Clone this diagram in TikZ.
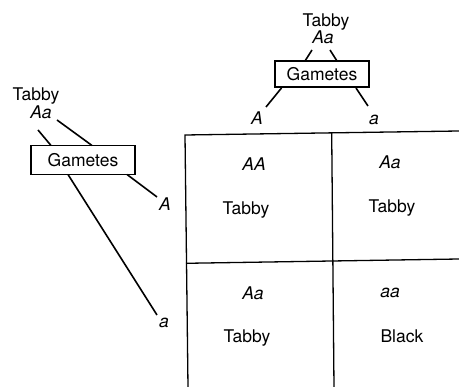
\documentclass[tikz,border=0pt]{standalone}
\usepackage{fontspec}
\setmainfont{TeX Gyre Heros}
\begin{document}
\begin{tikzpicture}[x=1pt,y=-1pt,
  lbl/.style={font=\fontsize{17.5}{20}\selectfont, inner sep=0pt, anchor=base},
  gl/.style={font=\fontsize{17.5}{20}\selectfont\itshape, inner sep=0pt, anchor=base},
  gbox/.style={draw, line width=1.1pt, font=\fontsize{17.5}{20}\selectfont, inner sep=0pt},
  conn/.style={line width=1.6pt},
  gridline/.style={line width=1.3pt}]
\useasboundingbox (0,0) rectangle (459,387);
% top parent
\node[lbl] (tT) at (326,27) {Tabby};
\node[gl] (tAa) at (323,44) {Aa};
\node[gbox, minimum width=94pt, minimum height=26pt] (tG) at (322,74) {Gametes};
\node[gl] (tA) at (257,125) {A};
\node[gl] (ta) at (374,125) {a};
\coordinate (t1s) at (312,50); \coordinate (t1e) at (305,61);
\coordinate (t2s) at (330,50); \coordinate (t2e) at (337,61);
\coordinate (t3s) at (281.5,88); \coordinate (t3e) at (266,107);
\coordinate (t4s) at (356,88); \coordinate (t4e) at (368,106);
\draw[conn] (t1s) -- (t1e);
\draw[conn] (t2s) -- (t2e);
\draw[conn] (t3s) -- (t3e);
\draw[conn] (t4s) -- (t4e);
% left parent
\node[lbl] (lT) at (36,101) {Tabby};
\node[gl] (lAa) at (41,118.5) {Aa};
\node[gbox, minimum width=104pt, minimum height=29pt] (lG) at (83,160) {Gametes};
\node[gl] (lA) at (165,210.5) {A};
\node[gl] (la) at (164,328) {a};
\coordinate (l1s) at (38,130); \coordinate (l1e) at (51,145.5);
\coordinate (l2s) at (57,120); \coordinate (l2e) at (92,145.5);
\coordinate (l3s) at (127,174.5); \coordinate (l3e) at (157,197);
\coordinate (l4s) at (68,174.5); \coordinate (l4e) at (157,315);
\draw[conn] (l1s) -- (l1e);
\draw[conn] (l2s) -- (l2e);
\draw[conn] (l3s) -- (l3e);
\draw[conn] (l4s) -- (l4e);
% grid
\coordinate (g1) at (185,135); \coordinate (g2) at (459,131);
\coordinate (g3) at (188,387);
\coordinate (g4) at (331.7,133); \coordinate (g5) at (334,387);
\coordinate (g6) at (186,263.3); \coordinate (g7) at (459,259);
\draw[gridline] (g2) -- (g1) -- (g3);
\draw[gridline] (g4) -- (g5);
\draw[gridline] (g6) -- (g7);
% cells
\node[gl] (c1g) at (254,171) {AA};
\node[lbl] (c1p) at (246,214.5) {Tabby};
\node[gl] (c2g) at (390,168.5) {Aa};
\node[lbl] (c2p) at (392,212.5) {Tabby};
\node[gl] (c3g) at (253,300) {Aa};
\node[lbl] (c3p) at (247,343) {Tabby};
\node[gl] (c4g) at (390,297.5) {aa};
\node[lbl] (c4p) at (402,343) {Black};
\end{tikzpicture}
\end{document}
